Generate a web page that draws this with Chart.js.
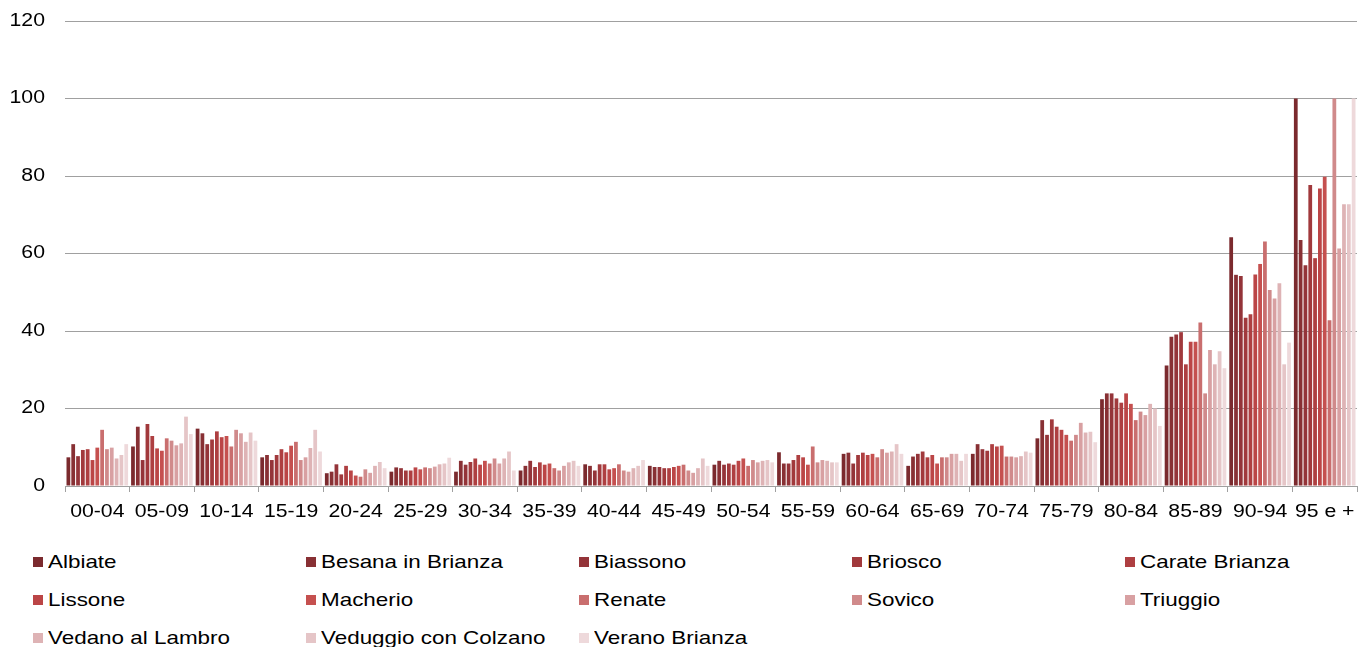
<!DOCTYPE html>
<html>
<head>
<meta charset="utf-8">
<script src="https://cdn.jsdelivr.net/npm/chart.js@4"></script>
<style>
  body { margin: 0; background: #fff; }
  #wrap { position: relative; width: 1359px; height: 647px; overflow: hidden; }
  #legend { position: absolute; left: 33px; top: 543px; width: 1400px; display: flex; flex-wrap: wrap; }
  .item { width: 273px; height: 38px; display: flex; align-items: center; }
  .box { width: 10px; height: 10px; margin-right: 5px; flex: none; }
  .lbl { font: 19px "Liberation Sans", Arial, sans-serif; color: #000; white-space: nowrap;
         transform: scaleX(1.18); transform-origin: left center; }
</style>
</head>
<body>
<div id="wrap">
  <canvas id="chart" width="1359" height="530"></canvas>
  <div id="legend"></div>
</div>
<script>
// fasce di età
const ageGroups = ["00-04", "05-09", "10-14", "15-19", "20-24", "25-29", "30-34", "35-39", "40-44", "45-49",
                   "50-54", "55-59", "60-64", "65-69", "70-74", "75-79", "80-84", "85-89", "90-94", "95 e +"]

const albiate   = [7.4, 10.2, 14.8, 7.4, 3.3, 3.7, 3.7, 4.0, 5.6, 5.2, 5.5, 8.7, 8.3, 5.2, 8.3, 12.3, 22.4, 31.1, 64.2, 100]
const besana    = [10.8, 15.3, 13.6, 8.0, 3.7, 4.8, 6.5, 5.2, 5.2, 4.9, 6.5, 5.8, 8.6, 7.6, 10.8, 17.0, 23.9, 38.5, 54.5, 63.5]
const biassono  = [7.7, 6.7, 10.8, 6.7, 5.6, 4.6, 5.5, 6.5, 4.0, 4.9, 5.5, 5.8, 5.8, 8.3, 9.5, 13.2, 23.9, 39.1, 54.2, 57.0]
const briosco   = [9.3, 16.0, 12.0, 8.0, 3.0, 4.0, 6.2, 4.9, 5.6, 4.6, 5.8, 6.7, 8.0, 8.9, 9.1, 17.2, 22.6, 39.7, 43.4, 77.7]
const carate    = [9.5, 12.9, 14.1, 9.5, 5.2, 4.0, 7.1, 6.1, 5.6, 4.6, 5.5, 8.0, 8.6, 7.4, 10.8, 15.3, 21.5, 31.4, 44.3, 58.8]
const lissone   = [6.7, 9.7, 12.6, 8.7, 4.0, 4.8, 5.5, 5.5, 4.3, 4.9, 6.5, 7.4, 8.0, 8.0, 10.2, 14.5, 23.9, 37.2, 54.6, 76.8]
const macherio  = [9.9, 9.1, 12.9, 10.4, 2.7, 4.3, 6.5, 5.8, 4.6, 5.2, 7.1, 5.5, 8.3, 5.8, 10.4, 13.2, 21.2, 37.2, 57.3, 79.8]
const renate    = [14.5, 12.3, 10.2, 11.4, 2.4, 4.8, 5.8, 4.6, 5.6, 5.5, 5.2, 10.2, 7.4, 7.4, 7.6, 11.7, 17.0, 42.2, 63.1, 42.8]
const sovico    = [9.5, 11.7, 14.5, 6.7, 4.3, 4.6, 7.1, 4.0, 4.0, 4.0, 6.7, 6.1, 9.5, 7.4, 7.6, 13.2, 19.2, 23.9, 50.6, 100]
const triuggio  = [9.9, 10.5, 13.6, 7.4, 3.4, 5.0, 5.8, 5.2, 3.7, 3.4, 6.1, 6.7, 8.6, 8.3, 7.4, 16.3, 18.3, 35.1, 48.4, 61.3]
const vedano    = [7.1, 11.0, 11.4, 9.8, 5.2, 5.6, 7.1, 6.1, 4.6, 4.6, 6.5, 6.5, 8.9, 8.3, 7.7, 13.8, 21.2, 31.4, 52.3, 72.7]
const veduggio  = [8.0, 17.9, 13.8, 14.5, 6.2, 5.8, 8.9, 6.5, 5.2, 7.1, 6.7, 6.1, 10.8, 6.5, 8.9, 14.0, 20.0, 34.8, 31.4, 72.7]
const verano    = [10.8, 13.4, 11.7, 8.9, 4.6, 7.3, 4.0, 5.2, 6.7, 5.2, 6.1, 6.1, 8.3, 8.3, 8.6, 11.3, 15.5, 30.4, 37.0, 100]

const comuni = ["Albiate", "Besana in Brianza", "Biassono", "Briosco", "Carate Brianza", "Lissone", "Macherio",
                "Renate", "Sovico", "Triuggio", "Vedano al Lambro", "Veduggio con Colzano", "Verano Brianza"]
const values = [albiate, besana, biassono, briosco, carate, lissone, macherio, renate, sovico, triuggio, vedano, veduggio, verano]

const yTicks = [0, 20, 40, 60, 80, 100, 120]

// dal rosso scuro al rosa chiaro
const colors = ["#7b2a2e", "#883034", "#943439", "#a1393c", "#ae3f41", "#bb4546", "#c5504f",
                "#c96e6e", "#d08a8b", "#d8a0a2", "#deb3b5", "#e5c5c7", "#eed9db"]

const gridColor = '#a0a0a0'
const stretch = 1.18   // the original text is a bit wide

// tick labels drawn by hand so they can be stretched horizontally
const wideLabels = {
    id: 'wideLabels',
    afterDraw(chart) {
        const ctx = chart.ctx
        const xs = chart.scales.x
        const ys = chart.scales.y
        ctx.save()
        ctx.fillStyle = '#000'
        ctx.font = '18px "Liberation Sans", Arial, sans-serif'
        ctx.textBaseline = 'middle'

        ctx.textAlign = 'center'
        ageGroups.forEach((lab, i) => {
            ctx.save()
            ctx.translate(xs.getPixelForValue(i), xs.top + 26)
            ctx.scale(stretch, 1)
            ctx.fillText(lab, 0, 0)
            ctx.restore()
        })

        ctx.textAlign = 'right'
        yTicks.forEach(v => {
            ctx.save()
            ctx.translate(45, ys.getPixelForValue(v))
            ctx.scale(stretch, 1)
            ctx.fillText(String(v), 0, 0)
            ctx.restore()
        })
        ctx.restore()
    }
}

new Chart(document.getElementById('chart').getContext('2d'), {
    type: 'bar',
    data: {
        labels: ageGroups,
        datasets: comuni.map((name, i) => ({
            label: name,
            data: values[i],
            backgroundColor: colors[i],
            barPercentage: 0.78,
            categoryPercentage: 0.97
        }))
    },
    options: {
        responsive: false,
        animation: false,
        devicePixelRatio: 1,
        layout: { padding: { top: 21, right: 2, left: 0, bottom: 0 } },
        scales: {
            y: {
                min: 0,
                max: 120,
                ticks: { display: false, stepSize: 20 },
                grid: { color: gridColor, lineWidth: 1, drawTicks: false },
                border: { display: false },
                afterFit: s => { s.width = 65 }
            },
            x: {
                ticks: { display: false },
                grid: { display: true, drawOnChartArea: false, drawTicks: true, tickLength: 6, color: gridColor, offset: true },
                border: { display: true, color: gridColor },
                afterFit: s => { s.height = 44 }
            }
        },
        plugins: {
            legend: { display: false },
            tooltip: { enabled: false }
        }
    },
    plugins: [wideLabels]
})

// legenda in html, 5 colonne
const legend = document.getElementById('legend')
comuni.forEach((name, i) => {
    const item = document.createElement('div')
    item.className = 'item'
    item.innerHTML = '<span class="box" style="background:' + colors[i] + '"></span><span class="lbl">' + name + '</span>'
    legend.appendChild(item)
})
</script>
</body>
</html>
